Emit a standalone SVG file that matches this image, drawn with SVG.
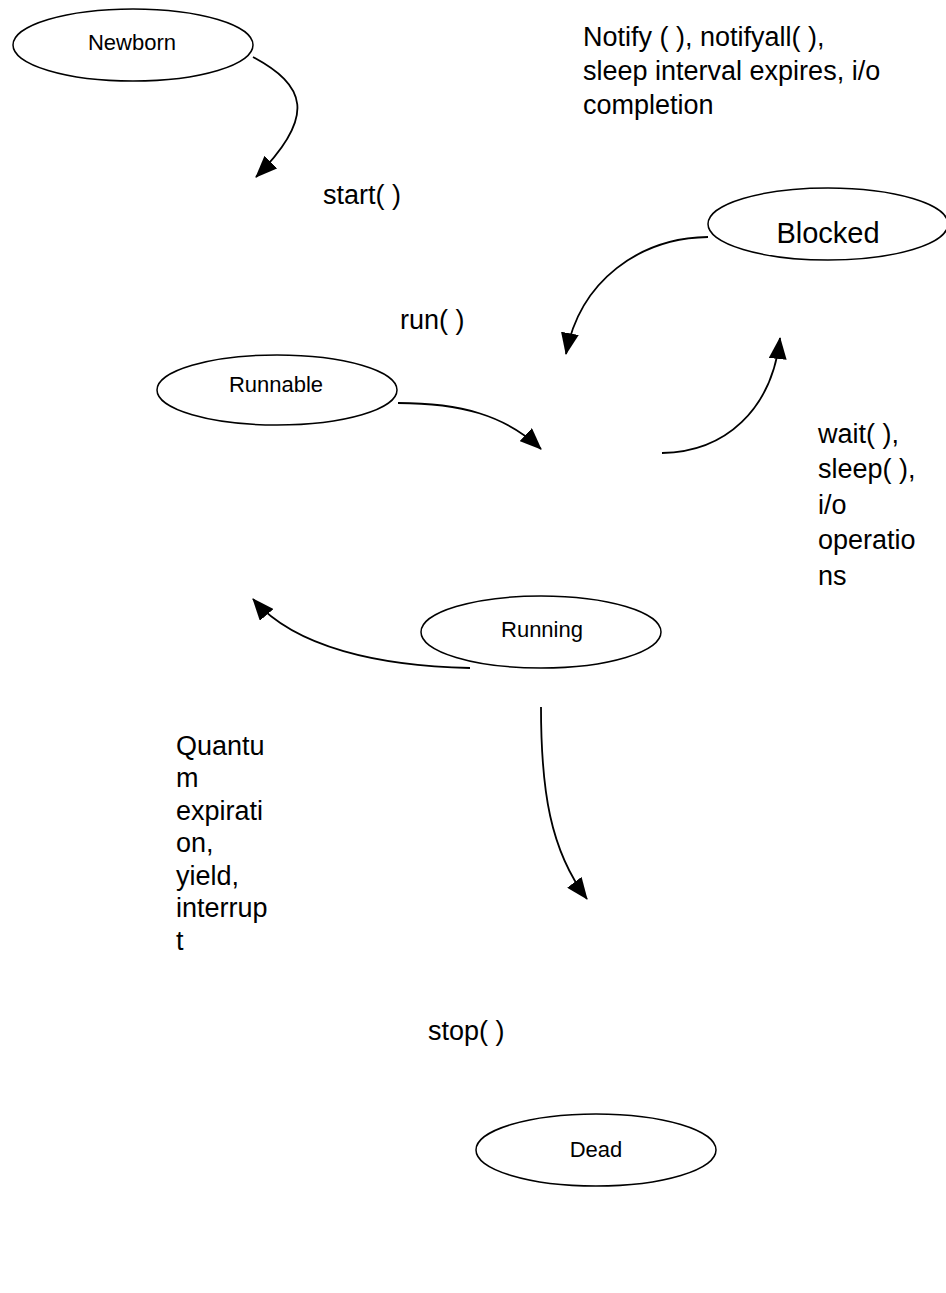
<svg xmlns="http://www.w3.org/2000/svg" width="946" height="1293" viewBox="0 0 946 1293">
  <style>
    .node { fill: #ffffff; stroke: #000000; stroke-width: 1.5; }
    .nlabel { font-family: "Liberation Sans", Arial, sans-serif; font-size: 22px; fill: #000000; text-anchor: middle; }
    .label { font-family: "Liberation Sans", Arial, sans-serif; font-size: 27px; fill: #000000; }
    .edge { fill: none; stroke: #000000; stroke-width: 1.8; }
  </style>
  <defs>
    <marker id="arrow" viewBox="0 0 22 18" markerWidth="22" markerHeight="18" refX="21" refY="9" orient="auto" markerUnits="userSpaceOnUse">
      <path d="M0,0 L22,9 L0,18 z" fill="#000000"/>
    </marker>
  </defs>
  <rect width="946" height="1293" fill="#ffffff"/>

  <g id="connectors">
    <path class="edge" d="M253,57 C305,85 318,115 256,177" marker-end="url(#arrow)"/>
    <path class="edge" d="M708,237 C640,238 580,280 566,354" marker-end="url(#arrow)"/>
    <path class="edge" d="M662,453 C725,452 772,410 780,338" marker-end="url(#arrow)"/>
    <path class="edge" d="M398,403 C460,403 505,415 541,449" marker-end="url(#arrow)"/>
    <path class="edge" d="M470,668 C380,666 295,648 253,599" marker-end="url(#arrow)"/>
    <path class="edge" d="M541,707 C541,790 550,850 587,899" marker-end="url(#arrow)"/>
  </g>

  <g id="node-newborn">
    <ellipse class="node" cx="133" cy="45" rx="120" ry="36"/>
    <text class="nlabel" x="132" y="50">Newborn</text>
  </g>
  <g id="node-blocked">
    <ellipse class="node" cx="828" cy="224" rx="120" ry="36"/>
    <text class="nlabel" x="828" y="243" style="font-size:29px">Blocked</text>
  </g>
  <g id="node-runnable">
    <ellipse class="node" cx="277" cy="390" rx="120" ry="35"/>
    <text class="nlabel" x="276" y="392">Runnable</text>
  </g>
  <g id="node-running">
    <ellipse class="node" cx="541" cy="632" rx="120" ry="36"/>
    <text class="nlabel" x="542" y="637">Running</text>
  </g>
  <g id="node-dead">
    <ellipse class="node" cx="596" cy="1150" rx="120" ry="36"/>
    <text class="nlabel" x="596" y="1157">Dead</text>
  </g>

  <g id="labels">
    <text class="label" x="583" y="46">Notify ( ), notifyall( ),</text>
    <text class="label" x="583" y="80">sleep interval expires, i/o</text>
    <text class="label" x="583" y="114">completion</text>
    <text class="label" x="323" y="204">start( )</text>
    <text class="label" x="400" y="329">run( )</text>
    <text class="label" x="818" y="443">wait( ),</text>
    <text class="label" x="818" y="478">sleep( ),</text>
    <text class="label" x="818" y="514">i/o</text>
    <text class="label" x="818" y="549">operatio</text>
    <text class="label" x="818" y="585">ns</text>
    <text class="label" x="176" y="755">Quantu</text>
    <text class="label" x="176" y="787">m</text>
    <text class="label" x="176" y="820">expirati</text>
    <text class="label" x="176" y="852">on,</text>
    <text class="label" x="176" y="885">yield,</text>
    <text class="label" x="176" y="917">interrup</text>
    <text class="label" x="176" y="950">t</text>
    <text class="label" x="428" y="1040">stop( )</text>
  </g>
</svg>
